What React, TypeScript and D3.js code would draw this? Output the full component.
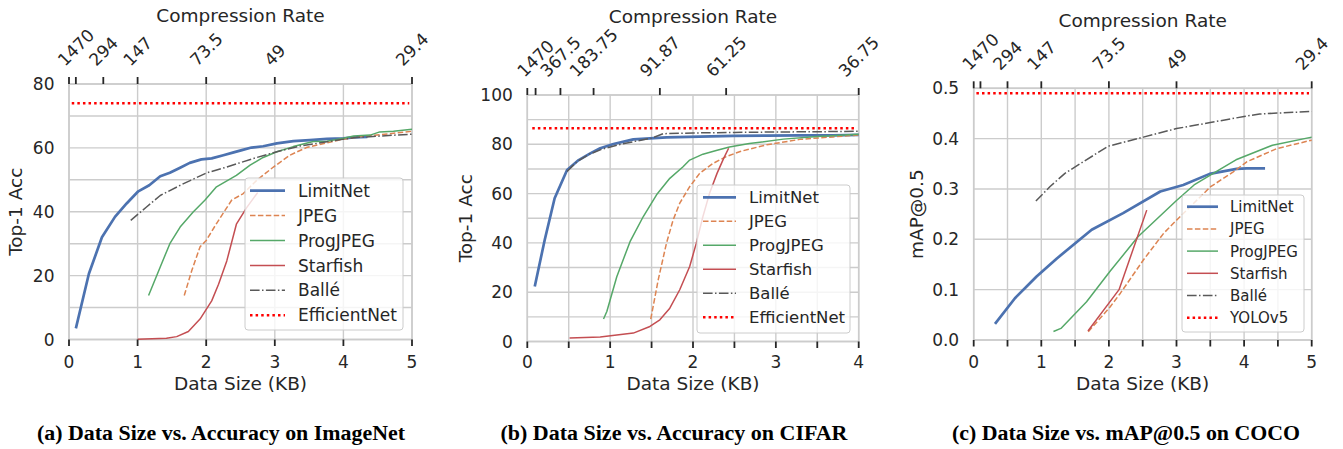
import React from "react";
import * as d3 from "d3";

type Pt = [number, number];

// (a) ImageNet: data size (KB) vs top-1 accuracy
const imagenetLimitNet: Pt[] = [[0.1, 3.5], [0.29, 20.6], [0.48, 32], [0.67, 38.4], [0.84, 42.6], [1.01, 46.4], [1.17, 48.3], [1.33, 51.1], [1.47, 52.2], [1.62, 53.8], [1.76, 55.3], [1.93, 56.4], [2.08, 56.7], [2.25, 57.7], [2.4, 58.6], [2.52, 59.3], [2.66, 60.1], [2.83, 60.5], [3.03, 61.4], [3.27, 62.1], [3.51, 62.4], [3.76, 62.8], [4.0, 63.0], [4.15, 63.3], [4.35, 63.4]];
const imagenetJpeg: Pt[] = [[1.68, 13.8], [1.79, 21.6], [1.91, 29], [2.0, 31], [2.15, 36.3], [2.37, 43.6], [2.54, 45.7], [2.74, 49.9], [2.98, 54], [3.22, 57.7], [3.46, 60.1], [3.76, 61.6], [4.0, 62.7], [4.24, 63.5], [4.49, 64], [5.0, 65.2]];
const imagenetProgJpeg: Pt[] = [[1.16, 13.8], [1.33, 22.7], [1.47, 30], [1.62, 35.2], [1.81, 39.9], [1.98, 43.6], [2.15, 47.8], [2.44, 51.4], [2.64, 54.6], [2.83, 57], [3.03, 58.8], [3.27, 60.4], [3.56, 62], [3.76, 62.1], [4.0, 63], [4.15, 63.7], [4.39, 64], [4.53, 65], [4.73, 65.2], [5.0, 65.8]];
const imagenetStarfish: Pt[] = [[1.0, 0.1], [1.42, 0.4], [1.57, 0.9], [1.74, 2.5], [1.91, 6.4], [2.08, 12.1], [2.18, 17.3], [2.3, 24.6], [2.44, 36.1], [2.59, 41.3], [2.75, 46]];
const imagenetBalle: Pt[] = [[0.9, 37.3], [1.13, 41.5], [1.33, 45.1], [1.67, 48.8], [2.01, 52.2], [2.3, 54], [2.69, 56.7], [3.03, 58.8], [3.37, 60.6], [3.76, 61.9], [4.15, 63.2], [4.53, 63.7], [5.0, 64.3]];
const imagenetEfficientNet = 74;

// (b) CIFAR
const cifarLimitNet: Pt[] = [[0.09, 22.3], [0.21, 41.2], [0.33, 58.1], [0.48, 69.6], [0.62, 73.6], [0.76, 76.3], [0.88, 78.4], [1.04, 80.1], [1.28, 82], [1.48, 82.4], [1.68, 82.8], [2.08, 83.1], [2.49, 83.4], [2.89, 83.5], [3.29, 83.6], [3.69, 83.6], [4.0, 83.8]];
const cifarJpeg: Pt[] = [[1.49, 9.1], [1.58, 25], [1.68, 39.9], [1.76, 49.3], [1.84, 56.1], [1.96, 62.8], [2.08, 68.2], [2.24, 72.2], [2.4, 75], [2.57, 77.1], [2.89, 79.8], [3.29, 82], [3.69, 83], [4.0, 83.8]];
const cifarProgJpeg: Pt[] = [[0.92, 9.1], [0.96, 12.2], [1.08, 26.3], [1.24, 40.5], [1.4, 50.7], [1.56, 59.5], [1.72, 66.2], [1.88, 70.9], [1.96, 73.6], [2.12, 76], [2.28, 77.5], [2.44, 78.9], [2.68, 80.3], [3.09, 82.1], [3.5, 83.2], [4.0, 84.1]];
const cifarStarfish: Pt[] = [[0.51, 1.4], [0.88, 1.8], [1.28, 3.4], [1.48, 6.1], [1.6, 8.8], [1.72, 13.5], [1.84, 21], [1.96, 30.4], [2.04, 39.9], [2.12, 50.7], [2.2, 60.1], [2.29, 68.2], [2.37, 74.3], [2.43, 78.4]];
const cifarBalle: Pt[] = [[0.48, 69], [0.6, 73], [0.75, 76], [0.9, 78], [1.1, 79.8], [1.3, 81.2], [1.5, 82.5], [1.64, 84.3], [2.0, 84.6], [2.5, 84.8], [3.0, 85.0], [3.5, 85.1], [4.0, 85.3]];
const cifarEfficientNet = 86.5;

// (c) COCO: data size vs mAP@0.5
const cocoLimitNet: Pt[] = [[0.315, 0.032], [0.61, 0.083], [0.93, 0.126], [1.23, 0.162], [1.745, 0.219], [2.21, 0.252], [2.76, 0.295], [3.1, 0.308], [3.49, 0.33], [3.89, 0.34], [4.04, 0.341], [4.31, 0.341]];
const cocoJpeg: Pt[] = [[1.695, 0.0165], [2.02, 0.066], [2.17, 0.093], [2.51, 0.159], [2.81, 0.212], [3.0, 0.238], [3.5, 0.304], [3.84, 0.334], [4.04, 0.354], [4.48, 0.38], [5.0, 0.397]];
const cocoProgJpeg: Pt[] = [[1.18, 0.017], [1.29, 0.023], [1.67, 0.076], [2.02, 0.137], [2.43, 0.205], [3.0, 0.277], [3.26, 0.308], [3.63, 0.338], [3.88, 0.358], [4.42, 0.387], [5.0, 0.403]];
const cocoStarfish: Pt[] = [[1.69, 0.018], [2.15, 0.1], [2.56, 0.258]];
const cocoBalle: Pt[] = [[0.92, 0.276], [1.13, 0.305], [1.35, 0.331], [1.62, 0.354], [1.99, 0.385], [2.51, 0.403], [3.0, 0.42], [3.5, 0.432], [4.0, 0.444], [4.23, 0.449], [5.0, 0.454]];
const cocoYolo = 0.49;

const methods = ["LimitNet", "JPEG", "ProgJPEG", "Starfish", "Ballé"];

// compression rate = 147 / size
const topTicksImagenet = [0, 0.1, 0.5, 1, 2, 3, 5];
const topLabelsImagenet = ["", "1470", "294", "147", "73.5", "49", "29.4"];
const topTicksCifar = [0, 0.1, 0.4, 0.8, 1.6, 2.4, 4];
const topLabelsCifar = ["", "1470", "367.5", "183.75", "91.87", "61.25", "36.75"];

const captions = [
  "(a) Data Size vs. Accuracy on ImageNet",
  "(b) Data Size vs. Accuracy on CIFAR",
  "(c) Data Size vs. mAP@0.5 on COCO",
];

const ink = "#262626";
const gridColor = "#cccccc";
const font = "DejaVu Sans, sans-serif";

const lineStyles = [
  { color: "#4c72b0", width: 2.7, dash: undefined as string | undefined },
  { color: "#dd8452", width: 1.5, dash: "5.5 2.4" },
  { color: "#55a868", width: 1.5, dash: undefined },
  { color: "#c44e52", width: 1.5, dash: undefined },
  { color: "#595959", width: 1.5, dash: "9.6 2.4 1.5 2.4" },
];
const refStyle = { color: "#ff0000", width: 2.5, dash: "2.5 3.1" };

interface LegendCfg { x: number; y: number; w: number; h: number; row0: number; step: number; hx0: number; hx1: number; tx: number; fs: number }
interface PanelCfg {
  left: number; right: number; top: number; bottom: number;
  xMax: number; yMax: number;
  xGridStep: number; yGridStep: number; yLabelStep: number; yDigits: number;
  topTicks: number[]; topLabels: string[]; titleY: number;
  yLabel: string; yLabelX: number;
  series: Pt[][]; refValue: number; refName: string; refRange: [number, number];
  legend: LegendCfg;
  caption: string; captionX: number; captionW: number;
}

const panels: PanelCfg[] = [
  {
    left: 69, right: 412, top: 84, bottom: 339.5, xMax: 5, yMax: 80,
    xGridStep: 1, yGridStep: 10, yLabelStep: 20, yDigits: 0,
    topTicks: topTicksImagenet, topLabels: topLabelsImagenet, titleY: 21.5,
    yLabel: "Top-1 Acc", yLabelX: 21.5,
    series: [imagenetLimitNet, imagenetJpeg, imagenetProgJpeg, imagenetStarfish, imagenetBalle],
    refValue: imagenetEfficientNet, refName: "EfficientNet", refRange: [0.04, 4.96],
    legend: { x: 245, y: 178, w: 158, h: 152, row0: 190.7, step: 24.9, hx0: 250, hx1: 285, tx: 298, fs: 17 },
    caption: captions[0], captionX: 221, captionW: 368,
  },
  {
    left: 527.3, right: 858.7, top: 95, bottom: 341.5, xMax: 4, yMax: 100,
    xGridStep: 0.5, yGridStep: 10, yLabelStep: 20, yDigits: 0,
    topTicks: topTicksCifar, topLabels: topLabelsCifar, titleY: 22.5,
    yLabel: "Top-1 Acc", yLabelX: 471.5,
    series: [cifarLimitNet, cifarJpeg, cifarProgJpeg, cifarStarfish, cifarBalle],
    refValue: cifarEfficientNet, refName: "EfficientNet", refRange: [0.06, 3.97],
    legend: { x: 697, y: 185, w: 153, h: 148, row0: 197.3, step: 24, hx0: 703, hx1: 736, tx: 749, fs: 16.5 },
    caption: captions[1], captionX: 674, captionW: 347,
  },
  {
    left: 973.7, right: 1311.7, top: 88.3, bottom: 340, xMax: 5, yMax: 0.5,
    xGridStep: 0.5, yGridStep: 0.1, yLabelStep: 0.1, yDigits: 1,
    topTicks: topTicksImagenet, topLabels: topLabelsImagenet, titleY: 26.5,
    yLabel: "mAP@0.5", yLabelX: 923,
    series: [cocoLimitNet, cocoJpeg, cocoProgJpeg, cocoStarfish, cocoBalle],
    refValue: cocoYolo, refName: "YOLOv5", refRange: [0.04, 4.96],
    legend: { x: 1182, y: 195, w: 122, h: 137, row0: 206.7, step: 22.2, hx0: 1187, hx1: 1218, tx: 1230, fs: 15 },
    caption: captions[2], captionX: 1126, captionW: 348,
  },
];

function textWidth(s: string, fs: number) {
  let w = 0;
  for (const c of s) w += c === "." ? 0.318 : 0.636;
  return w * fs;
}

function Panel({ p }: { p: PanelCfg }) {
  const x = d3.scaleLinear().domain([0, p.xMax]).range([p.left, p.right]);
  const y = d3.scaleLinear().domain([0, p.yMax]).range([p.bottom, p.top]);
  const line = d3.line<Pt>().x((d) => x(d[0])).y((d) => y(d[1]));
  const eps = 1e-9;
  const xGrid = d3.range(0, p.xMax + eps, p.xGridStep);
  const xLabels = d3.range(0, p.xMax + eps, 1);
  const yGrid = d3.range(0, p.yMax + eps, p.yGridStep);
  const yLabels = d3.range(0, p.yMax + eps, p.yLabelStep);
  const cx = (p.left + p.right) / 2;
  const cy = (p.top + p.bottom) / 2;
  const tickFs = 17;
  const labelFs = 18.5;
  const topTickTop = p.top - 7;
  const lg = p.legend;

  return (
    <g>
      {/* grid */}
      {xGrid.map((v, i) => (
        <line key={"gx" + i} x1={x(v)} x2={x(v)} y1={p.top} y2={p.bottom} stroke={gridColor} strokeWidth={1.4} />
      ))}
      {yGrid.map((v, i) => (
        <line key={"gy" + i} x1={p.left} x2={p.right} y1={y(v)} y2={y(v)} stroke={gridColor} strokeWidth={1.4} />
      ))}
      <rect x={p.left} y={p.top} width={p.right - p.left} height={p.bottom - p.top} fill="none" stroke={gridColor} strokeWidth={1.6} />

      {/* series */}
      <line x1={x(p.refRange[0])} x2={x(p.refRange[1])} y1={y(p.refValue)} y2={y(p.refValue)}
        stroke={refStyle.color} strokeWidth={refStyle.width} strokeDasharray={refStyle.dash} />
      {p.series.map((s, i) => (
        <path key={"s" + i} d={line(s) || ""} fill="none" stroke={lineStyles[i].color}
          strokeWidth={lineStyles[i].width} strokeDasharray={lineStyles[i].dash} strokeLinejoin="round" />
      ))}

      {/* bottom axis */}
      {xGrid.map((v, i) => (
        <line key={"bt" + i} x1={x(v)} x2={x(v)} y1={p.bottom} y2={p.bottom + 6.5} stroke={ink} strokeWidth={1.8} />
      ))}
      {xLabels.map((v, i) => (
        <text key={"bl" + i} x={x(v)} y={367.8} textAnchor="middle" fontSize={tickFs} fill={ink} fontFamily={font}>
          {d3.format("d")(v)}
        </text>
      ))}
      <text x={cx} y={389.8} textAnchor="middle" fontSize={labelFs} fill={ink} fontFamily={font}>Data Size (KB)</text>

      {/* left axis */}
      {yLabels.map((v, i) => (
        <text key={"yl" + i} x={p.left - 14.5} y={y(v)} dy="0.36em" textAnchor="end" fontSize={tickFs} fill={ink} fontFamily={font}>
          {d3.format("." + p.yDigits + "f")(v)}
        </text>
      ))}
      <text x={p.yLabelX} y={cy} transform={`rotate(-90, ${p.yLabelX}, ${cy})`} textAnchor="middle" fontSize={labelFs} fill={ink} fontFamily={font}>
        {p.yLabel}
      </text>

      {/* top axis: compression rate */}
      {p.topTicks.map((v, i) => (
        <line key={"tt" + i} x1={x(v)} x2={x(v)} y1={p.top} y2={topTickTop} stroke={ink} strokeWidth={1.8} />
      ))}
      {p.topTicks.map((v, i) => {
        const label = p.topLabels[i];
        if (!label) return null;
        const w = textWidth(label, tickFs);
        const h = 0.73 * tickFs;
        const lx = x(v);
        const ly = topTickTop - 10 - (w + h) / (2 * Math.SQRT2);
        return (
          <text key={"tl" + i} x={lx} y={ly} dy="0.36em" textAnchor="middle" transform={`rotate(-45, ${lx}, ${ly})`}
            fontSize={tickFs} fill={ink} fontFamily={font}>
            {label}
          </text>
        );
      })}
      <text x={cx} y={p.titleY} textAnchor="middle" fontSize={labelFs} fill={ink} fontFamily={font}>Compression Rate</text>

      {/* legend */}
      <rect x={lg.x} y={lg.y} width={lg.w} height={lg.h} rx={3} fill="#ffffff" fillOpacity={0.8} stroke={gridColor} strokeWidth={1} />
      {[...methods, p.refName].map((name, i) => {
        const st = i < methods.length ? lineStyles[i] : refStyle;
        const ry = lg.row0 + i * lg.step;
        return (
          <g key={"lg" + i}>
            <line x1={lg.hx0} x2={lg.hx1} y1={ry} y2={ry} stroke={st.color} strokeWidth={st.width} strokeDasharray={st.dash} />
            <text x={lg.tx} y={ry} dy="0.36em" fontSize={lg.fs} fill={ink} fontFamily={font}>{name}</text>
          </g>
        );
      })}

      {/* caption */}
      <text x={p.captionX} y={439.5} textAnchor="middle" fontSize={20} fontWeight="bold" fill="#000000"
        fontFamily="Liberation Serif, serif" textLength={p.captionW} lengthAdjust="spacingAndGlyphs">
        {p.caption}
      </text>
    </g>
  );
}

export default function App() {
  return (
    <svg width={1343} height={449} style={{ position: "absolute", left: 0, top: 0, background: "#ffffff" }}>
      {panels.map((p, i) => (
        <Panel key={i} p={p} />
      ))}
    </svg>
  );
}
